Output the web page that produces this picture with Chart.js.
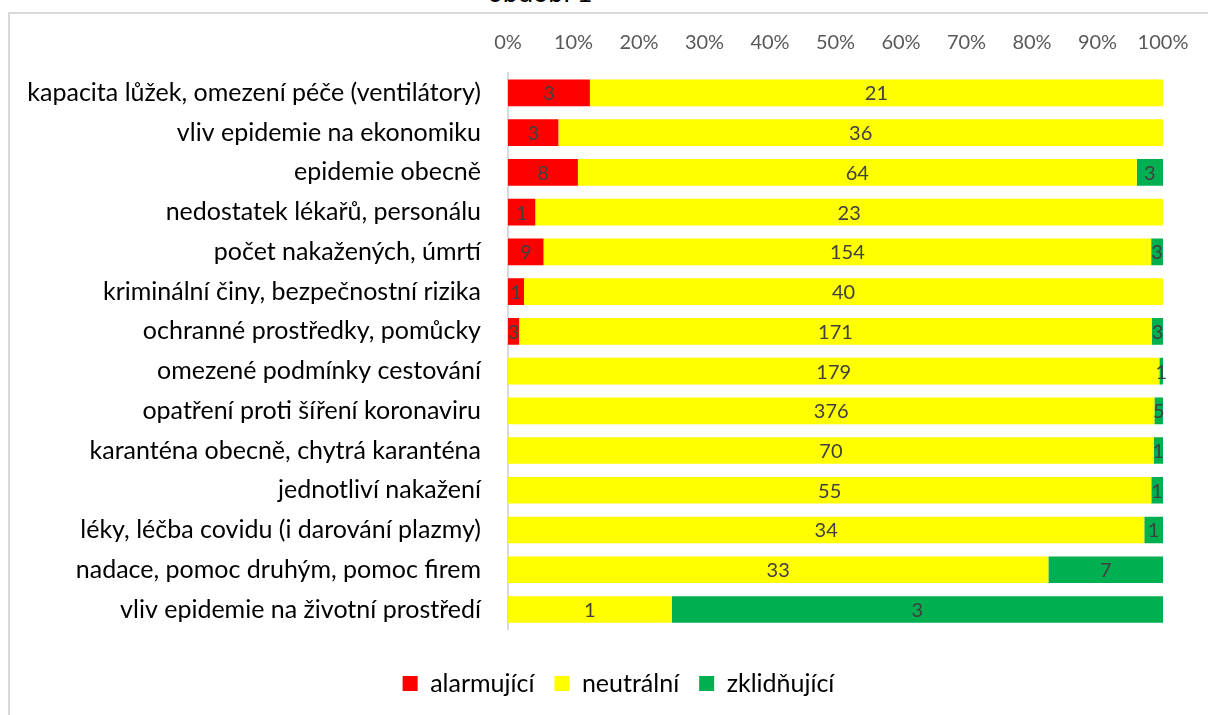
<!DOCTYPE html>
<html>
<head>
<meta charset="utf-8">
<script src="https://cdn.jsdelivr.net/npm/chart.js@4"></script>
<style>
    html, body { margin: 0; padding: 0; background: #fff; overflow: hidden; }
    #wrap { position: relative; width: 1208px; height: 715px; }
    #frame {
        position: absolute; left: 8px; top: 12px; width: 1400px; height: 900px;
        border: 2px solid #d9d9d9; box-sizing: border-box;
    }
    #title {
        position: absolute; left: 0; width: 1080px; top: -25px; text-align: center;
        font: 27px Lato, sans-serif; color: #000;
    }
    #chart { position: absolute; left: 0; top: 0; }
</style>
</head>
<body>
<div id="wrap">
    <div id="frame"></div>
    <div id="title">období 1</div>
    <canvas id="chart" width="1208" height="715"></canvas>
</div>
<script>
/* ===== Data ===== */

var categories = [
    'kapacita lůžek, omezení péče (ventilátory)',
    'vliv epidemie na ekonomiku',
    'epidemie obecně',
    'nedostatek lékařů, personálu',
    'počet nakažených, úmrtí',
    'kriminální činy, bezpečnostní rizika',
    'ochranné prostředky, pomůcky',
    'omezené podmínky cestování',
    'opatření proti šíření koronaviru',
    'karanténa obecně, chytrá karanténa',
    'jednotliví nakažení',
    'léky, léčba covidu (i darování plazmy)',
    'nadace, pomoc druhým, pomoc firem',
    'vliv epidemie na životní prostředí'
];

var alarming = [3, 3, 8, 1, 9, 1, 3, 0, 0, 0, 0, 0, 0, 0];
var neutral  = [21, 36, 64, 23, 154, 40, 171, 179, 376, 70, 55, 34, 33, 1];
var calming  = [0, 0, 3, 0, 3, 0, 3, 1, 5, 1, 1, 1, 7, 3];

var seriesNames = ['alarmující', 'neutrální', 'zklidňující'];
var seriesColors = ['#ff0000', '#ffff00', '#00b050'];

/* ===== Helpers ===== */

var totals = categories.map(function(c, i) {
    return alarming[i] + neutral[i] + calming[i];
});

function shares(counts) {
    return counts.map(function(v, i) { return v / totals[i] * 100; });
}

var FONT = 'Lato, sans-serif';

// draws the raw counts in the middle of each segment
var countLabels = {
    id: 'countLabels',
    afterDatasetsDraw: function(chart) {
        var ctx = chart.ctx;
        ctx.save();
        ctx.font = '20px ' + FONT;
        ctx.fillStyle = '#404040';
        ctx.textAlign = 'center';
        ctx.textBaseline = 'middle';
        chart.data.datasets.forEach(function(ds, di) {
            var meta = chart.getDatasetMeta(di);
            meta.data.forEach(function(bar, i) {
                var n = ds.counts[i];
                if (!n) return;
                ctx.fillText(String(n), (bar.x + bar.base) / 2, bar.y + 1);
            });
        });
        ctx.restore();
    }
};

// the legend sits centred on the whole frame, not on the plot
var legendShift = {
    id: 'legendShift',
    afterLayout: function(chart) {
        if (!chart.legend) return;
        chart.legend.left += 32;
        chart.legend.right += 32;
    }
};

/* ===== Chart ===== */

new Chart(document.getElementById('chart'), {
    type: 'bar',
    data: {
        labels: categories,
        datasets: [
            { label: seriesNames[0], data: shares(alarming), counts: alarming, backgroundColor: seriesColors[0] },
            { label: seriesNames[1], data: shares(neutral), counts: neutral, backgroundColor: seriesColors[1] },
            { label: seriesNames[2], data: shares(calming), counts: calming, backgroundColor: seriesColors[2] }
        ]
    },
    options: {
        indexAxis: 'y',
        responsive: false,
        animation: false,
        layout: { padding: { left: 10, right: 45, top: 20, bottom: 9 } },
        datasets: { bar: { categoryPercentage: 1, barPercentage: 0.67 } },
        plugins: {
            legend: {
                position: 'bottom',
                // empty title only adds room above the items
                title: { display: true, text: '', font: { size: 8 }, padding: { top: 12, bottom: 0 } },
                labels: {
                    boxWidth: 15, boxHeight: 15, padding: 20,
                    color: '#000', font: { family: FONT, size: 25 }
                }
            },
            tooltip: { enabled: false }
        },
        scales: {
            x: {
                position: 'top',
                stacked: true,
                min: 0, max: 100,
                grid: { display: false },
                border: { display: false },
                ticks: {
                    stepSize: 10,
                    padding: 10,
                    color: '#595959',
                    font: { family: FONT, size: 20 },
                    callback: function(v) { return v + '%'; }
                },
                afterFit: function(scale) { scale.height = 53; }
            },
            y: {
                stacked: true,
                grid: { display: false },
                border: { display: true, color: '#d9d9d9', width: 2 },
                ticks: {
                    color: '#000',
                    padding: 19,
                    autoSkip: false,
                    font: { family: FONT, size: 25 }
                },
                afterFit: function(scale) { scale.width = 498; }
            }
        }
    },
    plugins: [countLabels, legendShift]
});
</script>
</body>
</html>
